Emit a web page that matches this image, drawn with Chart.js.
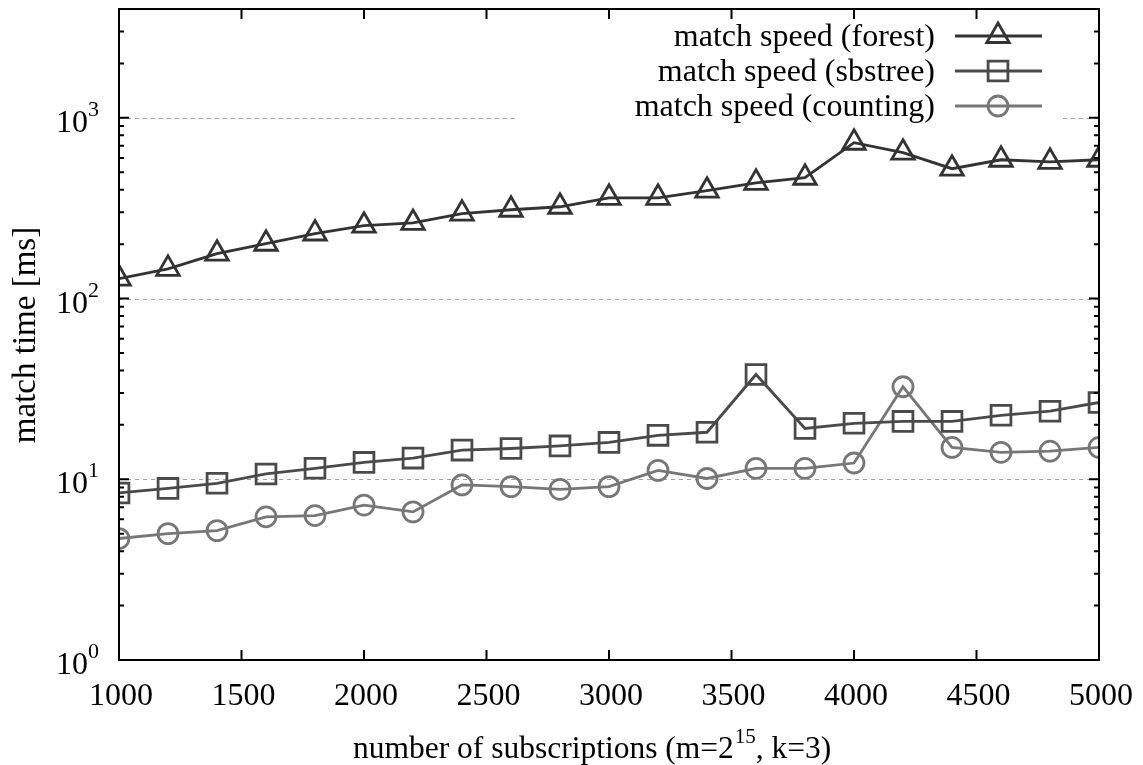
<!DOCTYPE html>
<html>
<head>
  <meta charset="utf-8">
  <title>match speed</title>
  <style>
    html, body { margin: 0; padding: 0; background: #fff; }
    #wrap { width: 1143px; height: 765px; }
  </style>
</head>
<body>
<div id="wrap"><canvas id="speedChart"></canvas></div>
<script src="https://cdn.jsdelivr.net/npm/chart.js"></script>
<script>
// data
const subscriptions = [1000, 1200, 1400, 1600, 1800, 2000, 2200, 2400, 2600, 2800, 3000,
                       3200, 3400, 3600, 3800, 4000, 4200, 4400, 4600, 4800, 5000];
const forestMs   = [129, 146, 177, 201, 229, 253, 262, 295, 310, 322, 361,
                    361, 395, 437, 466, 728, 641, 523, 586, 571, 586];
const sbstreeMs  = [8.4, 8.9, 9.5, 10.7, 11.5, 12.4, 13.1, 14.5, 14.8, 15.3, 16.0,
                    17.5, 18.2, 38, 19.1, 20.4, 20.9, 20.9, 22.6, 23.8, 26.6];
const countingMs = [4.7, 5.0, 5.2, 6.2, 6.3, 7.2, 6.6, 9.3, 9.1, 8.8, 9.1,
                    11.2, 10.1, 11.5, 11.5, 12.3, 32.5, 15.0, 14.1, 14.3, 15.0];
const xTicks = [1000, 1500, 2000, 2500, 3000, 3500, 4000, 4500, 5000];
const yMajor = [1, 10, 100, 1000];
const legendLabels = ['match speed (forest)', 'match speed (sbstree)', 'match speed (counting)'];

const FONT = '"Liberation Serif", "Times New Roman", serif';
const colors = ['#333333', '#4a4a4a', '#777777'];
const shapes = ['triangle', 'rect', 'circle'];
const radii = [13, 14, 10];

function pts(arr) {
  return arr.map((v, i) => ({ x: subscriptions[i], y: v }));
}

const seriesValues = [forestMs, sbstreeMs, countingMs];
const datasets = seriesValues.map((vals, i) => ({
  label: legendLabels[i],
  data: pts(vals),
  borderColor: colors[i],
  borderWidth: 2.8,
  pointStyle: shapes[i],
  pointRadius: radii[i],
  pointBorderWidth: 2.8,
  pointBorderColor: colors[i],
  pointBackgroundColor: 'rgba(0,0,0,0)',
  tension: 0
}));

function drawMarker(ctx, shape, x, y, r) {
  ctx.beginPath();
  if (shape === 'triangle') {
    ctx.moveTo(x, y - r);
    ctx.lineTo(x + r * Math.sqrt(3) / 2, y + r / 2);
    ctx.lineTo(x - r * Math.sqrt(3) / 2, y + r / 2);
    ctx.closePath();
  } else if (shape === 'rect') {
    const s = r * Math.SQRT1_2;
    ctx.rect(x - s, y - s, 2 * s, 2 * s);
  } else {
    ctx.arc(x, y, r, 0, Math.PI * 2);
  }
  ctx.stroke();
}

// gnuplot-like frame, ticks, grid and labels
const gnuplotFrame = {
  id: 'gnuplotFrame',
  beforeDatasetsDraw(chart) {
    const ctx = chart.ctx;
    const a = chart.chartArea;
    const ys = chart.scales.y;
    ctx.save();
    ctx.strokeStyle = '#a0a0a0';
    ctx.lineWidth = 1;
    ctx.setLineDash([4, 4]);
    yMajor.slice(1).forEach(v => {
      const py = Math.round(ys.getPixelForValue(v)) + 0.5;
      ctx.beginPath();
      ctx.moveTo(a.left, py);
      ctx.lineTo(a.right, py);
      ctx.stroke();
    });
    ctx.setLineDash([]);
    // legend box covers part of the top grid line
    ctx.fillStyle = '#fff';
    ctx.fillRect(515, 14, 545, 108);
    ctx.restore();
  },
  afterDraw(chart) {
    const ctx = chart.ctx;
    const a = chart.chartArea;
    const xs = chart.scales.x;
    const ys = chart.scales.y;
    ctx.save();
    ctx.strokeStyle = '#000';
    ctx.lineWidth = 2;
    ctx.strokeRect(a.left, a.top, a.right - a.left, a.bottom - a.top);

    // y ticks (major and minor), inward on both sides
    ctx.lineWidth = 2;
    for (let d = 0; d < 4; d++) {
      for (let m = 1; m <= 9; m++) {
        const v = m * Math.pow(10, d);
        if (v > 4000) break;
        const py = ys.getPixelForValue(v);
        const len = m === 1 ? 10 : 5;
        ctx.beginPath();
        ctx.moveTo(a.left, py); ctx.lineTo(a.left + len, py);
        ctx.moveTo(a.right, py); ctx.lineTo(a.right - len, py);
        ctx.stroke();
      }
    }
    // x ticks, inward top and bottom
    xTicks.forEach(v => {
      const px = xs.getPixelForValue(v);
      ctx.beginPath();
      ctx.moveTo(px, a.bottom); ctx.lineTo(px, a.bottom - 10);
      ctx.moveTo(px, a.top); ctx.lineTo(px, a.top + 10);
      ctx.stroke();
    });

    ctx.fillStyle = '#000';
    // x tick labels
    ctx.font = '32px ' + FONT;
    ctx.textAlign = 'center';
    ctx.textBaseline = 'alphabetic';
    xTicks.forEach(v => {
      ctx.fillText(String(v), xs.getPixelForValue(v) + 2, 705);
    });

    // y tick labels 10^n
    yMajor.forEach((v, n) => {
      const py = ys.getPixelForValue(v);
      ctx.font = '22px ' + FONT;
      ctx.textAlign = 'left';
      ctx.fillText(String(n), 88, py - 2);
      ctx.font = '32px ' + FONT;
      ctx.textAlign = 'right';
      ctx.fillText('10', 88, py + 14);
    });

    // y axis title
    ctx.save();
    ctx.translate(35, 335);
    ctx.rotate(-Math.PI / 2);
    ctx.font = '33px ' + FONT;
    ctx.textAlign = 'center';
    ctx.fillText('match time [ms]', 0, 0);
    ctx.restore();

    // x axis title with superscript
    ctx.textAlign = 'left';
    ctx.font = '31.5px ' + FONT;
    const part1 = 'number of subscriptions (m=2';
    const sup = '15';
    const part2 = ', k=3)';
    let x0 = 353;
    ctx.fillText(part1, x0, 758);
    x0 += ctx.measureText(part1).width + 1;
    ctx.font = '21px ' + FONT;
    ctx.fillText(sup, x0, 743);
    x0 += ctx.measureText(sup).width;
    ctx.font = '31.5px ' + FONT;
    ctx.fillText(part2, x0, 758);

    // legend
    const rowY = [36, 71, 106];
    legendLabels.forEach((lab, i) => {
      ctx.font = '32px ' + FONT;
      ctx.textAlign = 'right';
      ctx.textBaseline = 'middle';
      ctx.fillStyle = '#000';
      ctx.fillText(lab, 935, rowY[i] + 2);
      ctx.strokeStyle = colors[i];
      ctx.lineWidth = 2.8;
      ctx.beginPath();
      ctx.moveTo(955, rowY[i]);
      ctx.lineTo(1042, rowY[i]);
      ctx.stroke();
      drawMarker(ctx, shapes[i], 998, rowY[i], radii[i]);
    });
    ctx.restore();
  }
};

const config = {
  type: 'line',
  data: { datasets: datasets },
  options: {
    responsive: true,
    maintainAspectRatio: false,
    animation: false,
    layout: { autoPadding: false, padding: { top: 9, right: 44, left: 0, bottom: 0 } },
    plugins: {
      legend: { display: false },
      tooltip: { enabled: false }
    },
    scales: {
      x: {
        type: 'linear',
        min: 1000,
        max: 5000,
        ticks: { display: false, stepSize: 500 },
        grid: { display: false },
        border: { display: false },
        afterFit(scale) { scale.height = 105; }
      },
      y: {
        type: 'logarithmic',
        min: 1,
        max: 4000,
        ticks: { display: false },
        grid: { display: false },
        border: { display: false },
        afterFit(scale) { scale.width = 119; }
      }
    }
  },
  plugins: [gnuplotFrame]
};

const speedChart = new Chart(document.getElementById('speedChart'), config);
</script>
</body>
</html>
